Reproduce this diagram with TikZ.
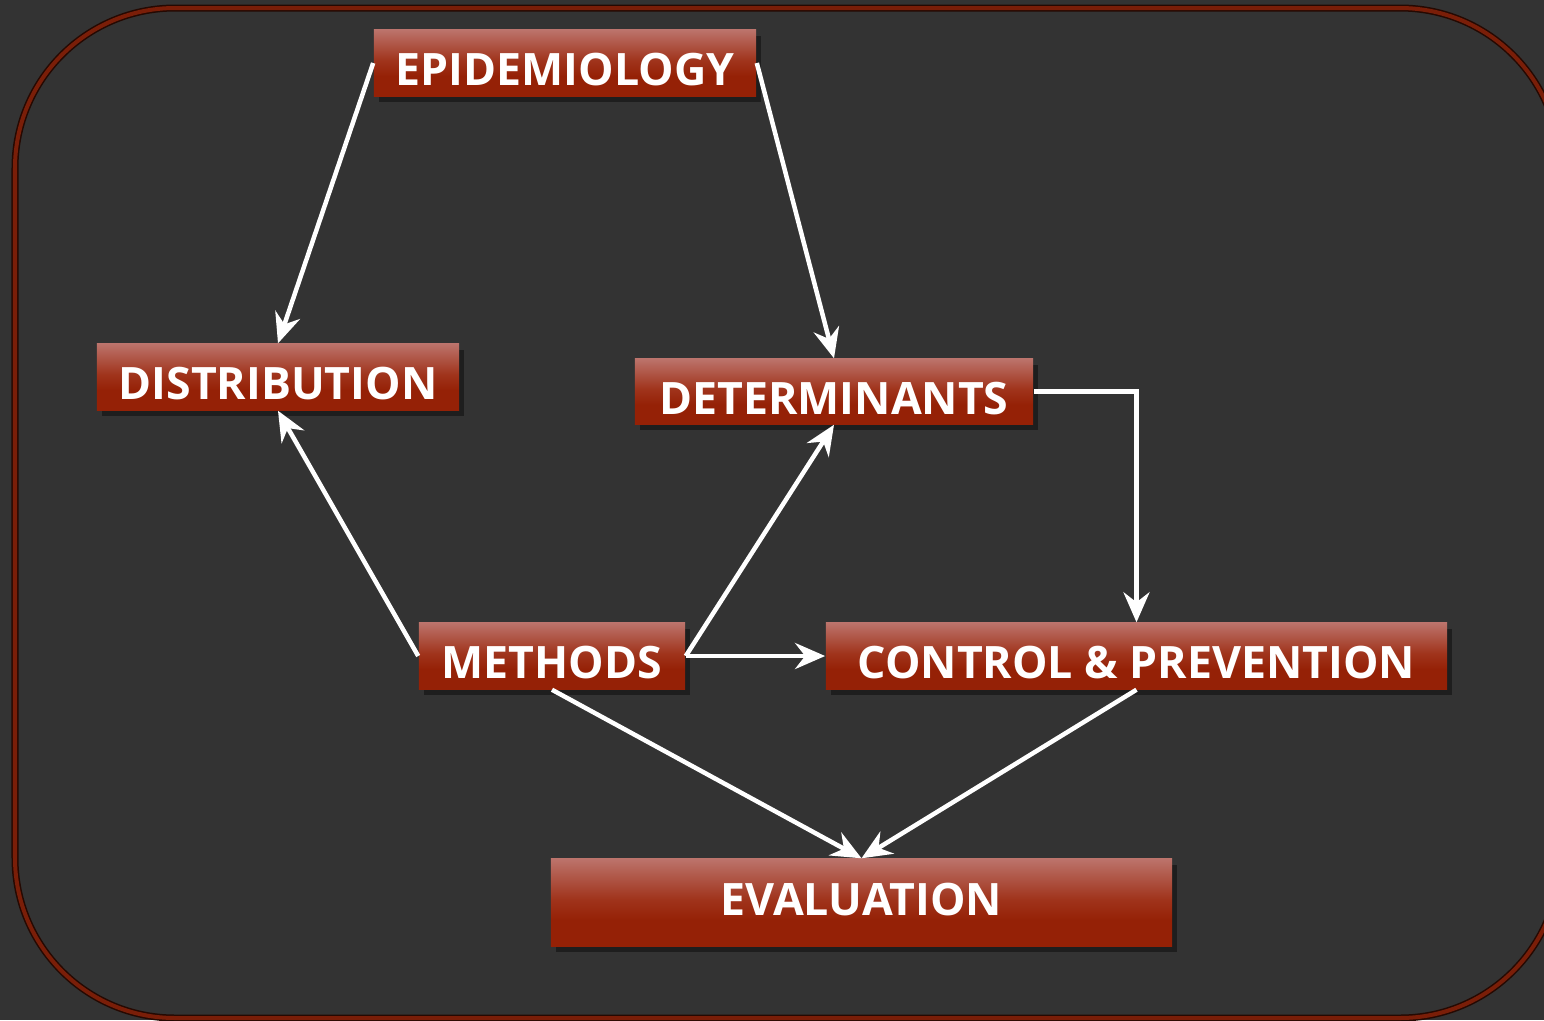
\documentclass[tikz,border=0pt]{standalone}
\usepackage{fontspec}
\setmainfont{Open Sans}
\usepackage{xcolor}
\usepackage{tikz}
\usetikzlibrary{arrows.meta,shadows}
\definecolor{bgdark}{RGB}{51,51,51}
\definecolor{framered}{RGB}{122,30,8}
\definecolor{boxdark}{RGB}{149,33,6}
\definecolor{boxmid}{RGB}{160,52,28}
\definecolor{boxlight}{RGB}{188,115,107}
\pgfdeclareverticalshading{boxred}{100bp}{color(0bp)=(boxdark); color(40bp)=(boxdark); color(52bp)=(boxmid); color(75bp)=(boxlight); color(100bp)=(boxlight)}
\tikzstyle{node:box}=[shading=boxred,inner sep=0pt,minimum height=0.66cm,text height=0.45cm,text depth=0cm,text=white,font=\fontsize{12.7}{15}\selectfont\bfseries,drop shadow={shadow xshift=0.05cm,shadow yshift=-0.06cm,opacity=0.4,fill=black}]
\tikzstyle{draw:arrow}=[white, line width=0.045cm, -{Stealth[length=0.3cm,width=0.26cm,inset=0.1cm]}]

\begin{document}
\begin{tikzpicture}[x=0.01cm,y=-0.01cm]
        % Background and frame
        \fill[bgdark] (0,0) rectangle (1544,1020);
        \useasboundingbox (0,0) rectangle (1544,1020);
        \draw[black!70!framered, line width=0.07cm, rounded corners=1.6cm] (15,8) rectangle (1560,1018);
        \draw[framered, line width=0.04cm, rounded corners=1.6cm] (15,8) rectangle (1560,1018);

        % Boxes
        \node[node:box,minimum width=3.82cm] (N-epi) at (565,63) {EPIDEMIOLOGY};
        \node[node:box,minimum width=3.62cm] (N-dist) at (278,377) {DISTRIBUTION};
        \node[node:box,minimum width=3.98cm,minimum height=0.65cm] (N-det) at (834,391.5) {DETERMINANTS};
        \node[node:box,minimum width=2.66cm] (N-meth) at (552,656) {METHODS};
        \node[node:box,minimum width=6.21cm] (N-ctrl) at (1136.5,656) {CONTROL \& PREVENTION};
        \node[node:box,minimum width=6.21cm,minimum height=0.87cm,text height=0.25cm] (N-eval) at (861.5,902.5) {EVALUATION};

        % Connections
        \draw[draw:arrow] (N-epi.west) -- (N-dist.north);
        \draw[draw:arrow] (N-epi.east) -- (N-det.north);
        \draw[draw:arrow] (N-det.east) -| (N-ctrl.north);
        \draw[draw:arrow] (N-meth.west) -- (N-dist.south);
        \draw[draw:arrow] (N-meth.east) -- (N-det.south);
        \draw[draw:arrow] (N-meth.east) -- (N-ctrl.west);
        \draw[draw:arrow] (N-meth.south) -- (N-eval.north);
        \draw[draw:arrow] (N-ctrl.south) -- (N-eval.north);

    \end{tikzpicture}
\end{document}
